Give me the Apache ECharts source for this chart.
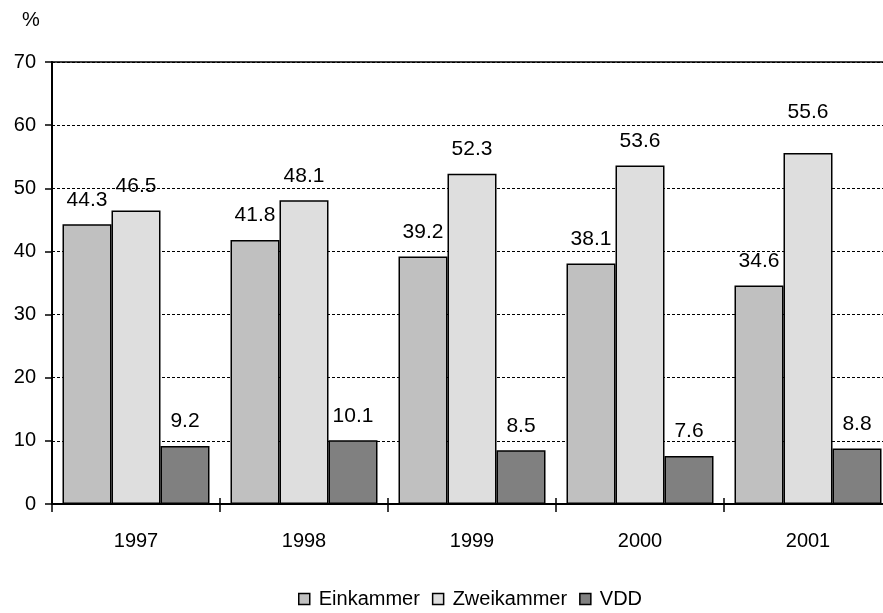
<!DOCTYPE html>
<html>
<head>
<meta charset="utf-8">
<script src="https://cdn.jsdelivr.net/npm/echarts@6/dist/echarts.min.js"></script>
<style>
  html, body { margin: 0; padding: 0; background: #fff; }
  #chart { width: 883px; height: 613px; }
</style>
</head>
<body>
<div id="chart"></div>
<script>
// values
const years = ['1997', '1998', '1999', '2000', '2001']
const einkammer = [44.3, 41.8, 39.2, 38.1, 34.6]
const zweikammer = [46.5, 48.1, 52.3, 53.6, 55.6]
const vdd = [9.2, 10.1, 8.5, 7.6, 8.8]
const yTicks = [0, 10, 20, 30, 40, 50, 60, 70]

const font = '"Liberation Sans", Arial, sans-serif'

const barStyle = (name, color, data) => ({
  name,
  type: 'bar',
  data,
  barGap: '0%',
  barCategoryGap: '12.5%',
  itemStyle: { color, borderColor: '#000', borderWidth: 1.5 },
  label: {
    show: true,
    position: 'top',
    distance: 14,
    color: '#000',
    fontFamily: font,
    fontSize: 21,
    lineHeight: 21,
  },
})

// the 2001 Zweikammer label sits higher in the original, clear of the 60 line
const zweiData = zweikammer.map((v, i) =>
  i === 4 ? { value: v, label: { distance: 30 } } : v
)

const chart = echarts.init(document.getElementById('chart'))

chart.setOption({
  backgroundColor: '#fff',
  animation: false,
  textStyle: { fontFamily: font },
  title: {
    text: '%',
    left: 17,
    top: 5,
    textStyle: { fontFamily: font, fontSize: 20, fontWeight: 'normal', color: '#000' },
  },
  legend: {
    left: 298,
    top: 589,
    padding: 0,
    itemWidth: 11,
    itemHeight: 11,
    itemGap: 12,
    icon: 'rect',
    itemStyle: { borderColor: '#000', borderWidth: 1.5 },
    textStyle: { fontFamily: font, fontSize: 20, color: '#000', padding: [0, 0, 0, 4] },
    data: ['Einkammer', 'Zweikammer', 'VDD'],
  },
  grid: {
    left: 52,
    top: 62,
    right: -9,
    bottom: 109,
    outerBoundsMode: 'none',
    show: true,
    borderColor: '#000',
    borderWidth: 1.5,
    containLabel: false,
  },
  xAxis: [
    {
      type: 'category',
      data: years,
      axisLine: { lineStyle: { color: '#000', width: 2 } },
      axisTick: { show: true, length: 8, lineStyle: { color: '#000', width: 1.5 } },
      axisLabel: { color: '#000', fontSize: 20, margin: 27, fontFamily: font },
    },
    {
      type: 'category',
      data: years,
      position: 'bottom',
      axisLine: { show: false },
      axisTick: { show: true, inside: true, length: 6, lineStyle: { color: '#000', width: 1.5 } },
      axisLabel: { show: false },
    },
  ],
  yAxis: {
    type: 'value',
    min: yTicks[0],
    max: yTicks[yTicks.length - 1],
    interval: 10,
    axisLine: { show: true, lineStyle: { color: '#000', width: 2 } },
    axisTick: { show: true, length: 7, lineStyle: { color: '#000', width: 1.5 } },
    axisLabel: { color: '#000', fontSize: 20, margin: 16, fontFamily: font },
    splitLine: { show: true, lineStyle: { color: '#000', width: 1, type: [3, 2] } },
  },
  series: [
    barStyle('Einkammer', '#c0c0c0', einkammer),
    barStyle('Zweikammer', '#dedede', zweiData),
    barStyle('VDD', '#808080', vdd),
  ],
})
</script>
</body>
</html>
